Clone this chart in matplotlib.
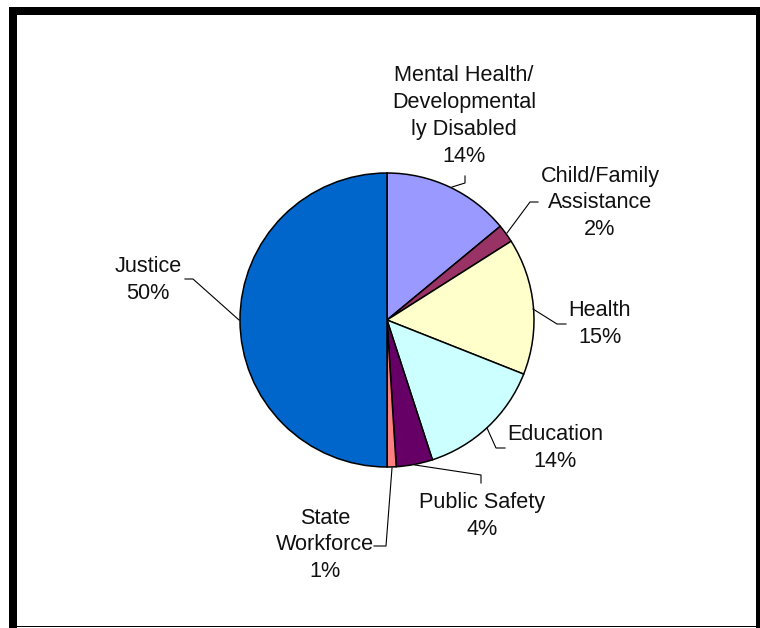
import matplotlib.pyplot as plt
from matplotlib.patches import Rectangle

labels = ["Mental Health/\nDevelopmental\nly Disabled", "Child/Family\nAssistance", "Health",
          "Education", "Public Safety", "State\nWorkforce", "Justice"]
shares = [14, 2, 15, 14, 4, 1, 50]
colors = ["#9999FF", "#993366", "#FFFFCC", "#CCFFFF", "#660066", "#FF8080", "#0066CC"]

W, H = 760, 628
def py(y):
    # pixel row -> data y (origin at bottom)
    return H - y

fig = plt.figure(figsize=(7.6, 6.28), dpi=100)
ax = fig.add_axes([0, 0, 1, 1])

ax.pie(shares, colors=colors, startangle=90, counterclock=False,
       center=(387, py(320)), radius=147, frame=True,
       wedgeprops=dict(edgecolor="black", linewidth=1.1))
ax.set_xlim(0, W)
ax.set_ylim(0, H)
ax.set_aspect("equal")
ax.axis("off")

# label text positions (centre of text block) and leader lines, in pixels
text_pos = [(464, 116), (600, 203), (600, 324), (555, 448), (482, 516), (325, 545), (148, 280)]
leaders = [
    [(452, 187), (465, 183), (465, 176)],
    [(507, 233), (530, 202), (538, 202)],
    [(533, 309), (557, 324), (566, 324)],
    [(487, 428), (496, 448), (505, 448)],
    [(415, 465), (481, 475), (481, 483)],
    [(392, 468), (386, 546), (374, 546)],
    [(239, 320), (193, 279), (185, 279)],
]

for lab, val, (tx, ty), pts in zip(labels, shares, text_pos, leaders):
    ax.text(tx, py(ty), f"{lab}\n{val}%", ha="center", va="center",
            fontsize=15.6, family="Liberation Sans", linespacing=1.36, color="#111111")
    ax.plot([p[0] for p in pts], [py(p[1]) for p in pts], color="black", lw=0.8)

# chart frame
ax.add_patch(Rectangle((9, py(628)), 8, 621, color="black", lw=0))
ax.add_patch(Rectangle((9, py(15)), 751, 8, color="black", lw=0))
ax.add_patch(Rectangle((756, py(628)), 4, 621, color="black", lw=0))
ax.add_patch(Rectangle((9, py(627)), 751, 1.5, color="black", lw=0))

fig.savefig("out.png", dpi=100, facecolor="white")
